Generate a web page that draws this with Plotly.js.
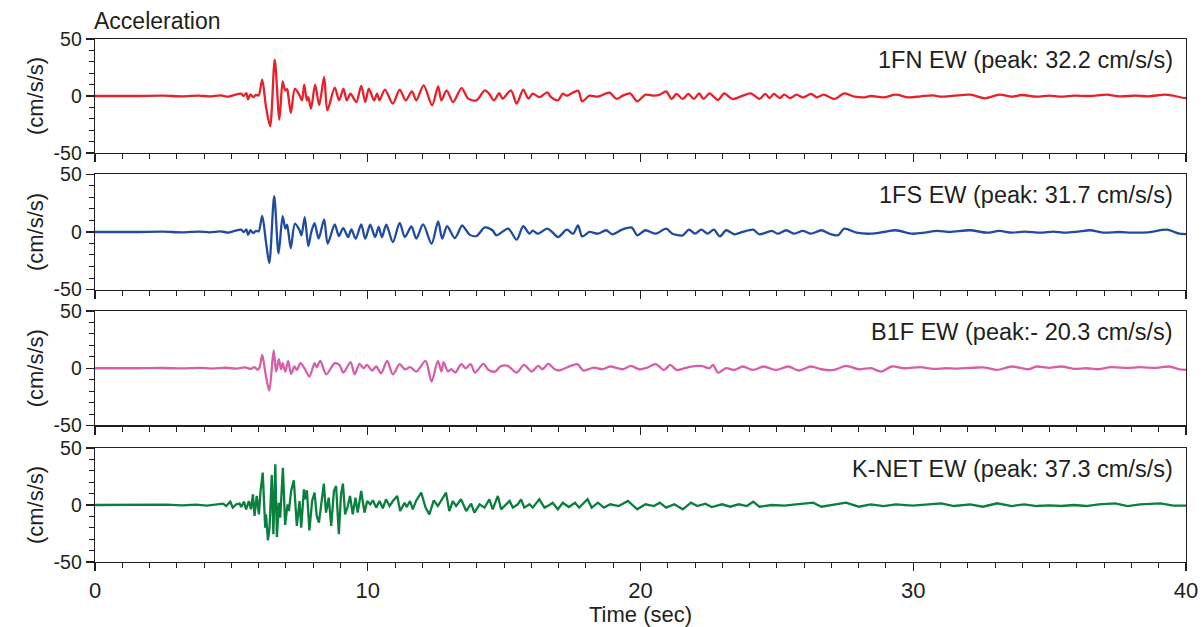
<!DOCTYPE html>
<html>
<head>
<meta charset="utf-8">
<script src="https://cdn.plot.ly/plotly-3.0.1.min.js"></script>
<style>html,body{margin:0;padding:0;background:#fff;}#chart{width:1203px;height:627px;}</style>
</head>
<body>
<div id="chart"></div>
<script>
// ---- Data ----
const labels = ["1FN EW (peak: 32.2 cm/s/s)", "1FS EW (peak: 31.7 cm/s/s)", "B1F EW (peak:- 20.3 cm/s/s)", "K-NET EW (peak: 37.3 cm/s/s)"];
const yTitle = "(cm/s/s)";
const xTitle = "Time (sec)";
const chartTitle = "Acceleration";
const yTickVals = [-50, 0, 50];
const yTickText = ["-50", "0", "50"];

// 1FN EW
const t1 = [0,1.5,2.5,3.2,3.8,4.2,4.6,4.9,5.1,5.36,5.45,5.55,5.61,5.7,5.8,5.9,6.0,
 6.13,6.27,6.42,6.59,6.76,6.88,6.97,7.04,7.09,7.18,7.33,7.5,7.59,7.67,7.77,7.82,7.92,8.07,8.22,8.4,8.52,8.79,8.95,9.11,9.23,9.37,9.58,9.76,9.91,10.04,10.23,10.34,10.43,10.63,10.92,11.17,11.39,11.62,11.78,12.05,12.36,12.58,12.7,12.89,13.13,13.44,13.68,13.99,14.29,14.45,14.63,14.82,14.94,15.25,15.46,15.7,15.89,16.05,16.3,16.58,16.72,16.98,
 17.15,17.3,17.71,17.86,18.13,18.44,18.86,19.12,19.35,19.62,19.88,20.18,20.49,20.71,20.94,21.14,21.32,21.55,21.75,21.96,22.15,22.31,22.53,22.84,23.07,23.37,23.75,24.05,24.36,24.58,24.73,24.89,25.11,25.27,25.49,25.72,25.95,26.25,26.48,26.71,27.12,27.47,27.85,28.22,28.45,28.91,29.36,29.82,30.27,30.73,31.03,31.49,32.09,32.63,33.16,33.61,33.99,34.52,34.98,35.43,35.89,36.49,37.1,37.56,38.16,38.62,39.23,39.53,39.95,40];
const a1 = [0,0,0.3,-0.3,0.4,-0.4,0.5,-0.5,0.8,2,0,2.6,-3,1.5,-1,1,0.5,
 14.3,-9.6,-26.6,31.9,-20.8,12.9,5,6,0,-14.9,6.4,0.6,-3.8,10,-3.8,-1,-11,10,-8,16.7,-12.6,7.3,-3.8,6.4,-3.8,2,-5.3,8.8,-5.3,6.4,-3.8,2,-3.8,5.6,-6.7,5.6,-3.8,4,-3.8,9.4,-8.2,8.5,-3.8,5,-5.3,7,-2.3,-3.8,5,2,-3.8,2.6,-2.3,5,-6.7,5.6,-2.3,2,-1,3.2,-1,-3.8,
 2,0.3,4.7,-4.7,0.3,-0.6,2.9,-2.6,0.3,2.3,-4.7,1.2,0.3,1.2,4.1,-2.6,1.8,-2.6,1.8,-2.6,2.3,-2.6,2.3,-3.5,2.3,-2.6,0.3,2.3,-2.6,1.8,-1.8,1.8,-1.8,1.2,-1.8,1.2,-1.2,1.8,-1.2,1.2,-2.6,2.3,-0.6,-1.2,0,-1.2,1.2,-1.2,-0.3,0.6,-0.6,0.3,1.2,-2,1.2,-0.6,0.9,-0.6,0.3,-0.6,0.3,0,1.2,-0.3,0.3,-0.3,1.2,0.3,-1.8,-1.5];

// 1FS EW
const t2 = [0,1.5,2.5,3.2,3.8,4.2,4.6,4.9,5.1,5.36,5.45,5.55,5.61,5.7,5.8,5.9,6.0,
 6.13,6.27,6.39,6.57,6.73,6.88,6.98,7.04,7.09,7.18,7.33,7.5,7.57,7.69,7.82,7.93,8.05,8.2,8.4,8.53,8.79,8.94,9.1,9.28,9.4,9.56,9.76,9.91,10.09,10.27,10.4,10.52,10.68,10.92,11.17,11.36,11.6,11.78,12.03,12.34,12.58,12.73,12.91,13.19,13.46,13.57,13.73,13.99,14.29,14.57,14.72,15.15,15.46,15.7,15.93,16.05,16.24,16.58,16.76,16.98,
 17.3,17.53,17.71,17.86,18.13,18.44,18.74,18.97,19.32,19.68,19.88,20.18,20.56,20.94,21.17,21.55,21.78,22.0,22.23,22.46,22.69,22.91,23.14,23.44,23.75,24.13,24.36,24.81,25.04,25.34,25.64,25.95,26.25,26.63,26.93,27.24,27.47,27.92,28.45,28.91,29.36,29.97,30.42,30.88,31.34,32.09,32.7,33.16,33.61,34.07,34.67,35.13,35.58,36.04,36.49,36.95,37.56,38.01,38.62,39.3,39.76,40];
const a2 = [0,0,0.3,-0.3,0.4,-0.3,0.5,-0.5,0.8,2,0,2.3,-2.6,1.5,-1,1,0.5,
 14,-9,-27,31.2,-18.6,13.7,2.9,6.4,0,-14,7.3,1.5,-2.9,13,-12.3,0,7.7,-5.8,11,-10.2,6.6,-3.5,3.4,-4.4,2.3,-5.8,6.6,-5.8,6.3,-4.4,4.4,-4.4,6.3,-8.8,8,-4.4,4.8,-5.8,6.6,-10.2,9.2,-5.8,5,-5.3,5.7,2.9,-2.3,-3.5,4,1.5,-2.9,3,-6.7,5,-1.5,1.2,-1.5,3,0,-4.4,
 2,-1.5,5.8,-3.8,0,-1.5,1.5,-2,2,3.8,-2.9,1.5,-1.5,2.9,-1.5,-2.9,2,-1.5,2,-1.5,2,-3.8,1.5,-2,0,2,-2,0.9,-1.5,1.5,-1.5,0.9,-1.5,1.5,-1.5,-2.9,2.9,-0.6,-1.5,0,1.5,-1.5,-0.6,0.9,0,1.5,-0.6,0.9,-0.6,0.3,-0.6,0.3,-0.6,0.3,1.5,-0.6,0,-0.6,-0.3,2,-1.5,-1.8];

// B1F EW
const t3 = [0,1.5,2.5,3.2,3.8,4.3,4.8,5.2,5.5,5.7,5.85,5.95,6.03,
 6.13,6.25,6.39,6.55,6.64,6.74,6.82,6.88,6.98,7.08,7.19,7.31,7.4,7.53,7.68,7.86,8.05,8.13,8.26,8.48,8.79,8.96,9.11,9.37,9.52,9.7,9.85,9.97,10.16,10.31,10.49,10.71,10.92,11.17,11.36,11.56,11.78,12.12,12.34,12.57,12.7,12.78,12.94,13.06,13.21,13.43,13.59,13.77,13.93,14.24,14.43,14.67,14.86,15.12,15.46,15.73,16.01,16.25,16.4,16.62,16.86,17.01,
 17.15,17.68,17.91,18.29,18.59,18.89,19.35,19.65,19.95,20.26,20.56,20.86,21.09,21.32,21.62,21.85,22.23,22.53,22.66,22.84,23.14,23.44,23.75,24.13,24.51,24.96,25.42,25.8,26.25,26.63,27.09,27.54,28.0,28.45,28.83,29.21,29.67,30.27,30.73,31.18,31.64,32.09,32.63,33.08,33.61,34.22,34.52,34.98,35.43,35.89,36.34,36.8,37.25,37.86,38.32,38.92,39.38,39.76,40];
const a3 = [0,0,0.2,-0.2,0.3,-0.3,0.4,-0.4,0.8,-0.6,1,-1.2,0.5,
 11.7,-4.4,-19.6,15.5,-2.9,7.9,-0.9,4.4,-2.9,6.4,-5,1.5,-1.5,4.4,0,-7.3,4.4,0.9,6.4,-5.3,4.4,2.9,-3.8,5.3,-5.3,3.8,0,2.9,-2,1.5,-4.4,6.4,-5.3,3.5,-0.9,0.9,-2.9,6.4,-11.7,6.4,-2.9,5.3,-2.9,-0.9,-3.8,3.5,0,3.5,-3.8,3.8,-1.5,-2.9,1.5,2.3,-3.8,2.9,-2.9,2,-0.9,3.8,-0.9,-2,
 -0.9,3.5,-2,0.6,-0.9,1.5,-0.9,2,-0.9,0.6,3.5,-1.5,2.9,-1.5,0,1.5,2,0,2.9,-3.8,0,-1.5,1.5,-1.5,1.5,-1.5,1.5,-2,1.5,-0.9,-1.5,2,-0.9,0,-2.9,1.5,0,0.9,-0.6,0,-0.3,0.3,0.6,-1.5,1.5,-0.9,1.5,0.3,1.5,-0.6,0,-0.9,0.9,0.3,0.9,0.3,1.5,-0.9,-1.5];

// K-NET EW
const t4 = [0,1.0,2.0,2.6,3.2,3.7,4.1,4.4,4.69,4.81,4.96,5.05,5.18,5.3,5.36,5.46,5.54,5.64,5.72,5.79,5.85,5.93,6.01,6.07,
 6.15,6.24,6.27,6.34,6.4,6.48,6.54,6.61,6.67,6.74,6.79,6.89,6.97,7.06,7.11,7.19,7.29,7.4,7.5,7.56,7.66,7.72,7.77,7.86,7.96,8.05,8.13,8.21,8.29,8.39,8.47,8.57,8.66,8.76,8.84,8.94,9.02,9.09,9.17,9.27,9.35,9.45,9.55,9.63,9.76,9.88,9.98,10.09,10.19,10.31,10.43,10.55,10.67,10.8,10.92,11.08,11.19,11.35,11.43,11.55,11.65,11.77,11.96,12.12,12.26,12.42,12.57,12.87,12.99,13.12,13.24,13.42,13.61,13.79,13.91,14.1,14.28,14.46,14.58,14.77,14.89,15.01,15.2,15.32,15.5,15.62,15.74,15.93,16.05,16.29,16.48,16.66,16.78,16.97,
 17.15,17.37,17.6,17.75,18.06,18.21,18.44,18.66,18.89,19.2,19.54,19.88,20.18,20.49,20.71,20.94,21.24,21.55,21.85,22.08,22.38,22.61,22.99,23.29,23.6,23.9,24.13,24.36,24.81,25.27,25.72,26.33,26.63,27.09,27.54,28.0,28.45,28.91,29.36,29.97,30.58,31.03,31.49,32.09,32.55,33.08,33.61,34.07,34.52,34.98,35.43,35.89,36.34,36.8,37.4,37.86,38.32,39.07,39.53,40];
const a4 = [0,0.1,-0.2,0.3,-0.3,0.4,-0.5,0.6,1.2,-0.9,2.9,-2.3,0.6,1.2,-1.8,2.9,-3.8,3.5,-3.8,9.4,-9.6,7.9,-8.2,12.3,
 28.4,-19.9,-8.2,-31,-19.9,26.3,-25.7,35.7,-28.1,2,-11.1,32.7,-17.5,0.6,-5.3,12.3,21.6,-18.4,3.5,-19.9,13.7,5,12.9,-22.2,3.5,10.8,-9.6,-15.5,-0.9,18.7,-6.7,6.4,-18.4,12.3,16.7,-25.7,9.4,18.7,-8.2,-0.9,7.9,-8.2,6.4,-6.7,12.3,-6.7,3.5,0.6,4.1,-2.3,3.5,-2.9,5,-0.9,3.5,7.9,-5.3,2,-1.8,3.5,-3.8,3.5,10.8,-2.3,-8.2,4.1,-0.9,10.8,-5.3,3.5,-0.9,5,-5.3,1.2,-6.7,0.6,-2.3,5,-3.8,7.9,-3.8,-0.9,3.5,-2.3,0.6,5,-2.3,0.6,-2.3,5,-2.3,0,2,-3.8,
 2,-1.8,2,-2.3,5,-2.3,2,-2.3,0.6,-0.9,3.5,-3.8,0.6,-0.9,2,-2.3,0.6,-3.8,2,-0.9,1.2,-1.8,0.6,-1.5,0.6,-0.9,2.9,-1.5,0,-0.6,0.6,2,-1.5,0.6,2,-1.5,0.6,-0.9,0.6,-0.6,0.6,1.5,-0.9,0.6,-1.5,1.5,-0.9,0.6,-0.9,-0.3,-0.9,0,-0.9,0.6,1.5,-0.9,0.6,1.5,-0.6,-0.6];

const times = [t1, t2, t3, t4];
const accels = [a1, a2, a3, a4];
const colors = ["#e8202a", "#1f4c9e", "#d660a8", "#0a7f3e"];

// ---- Build chart ----
const FONT = "Liberation Sans, Arial, Helvetica, sans-serif";
const INK = "#231f20";
const domains = [[0.782, 1.0], [0.521, 0.741], [0.261, 0.48], [0, 0.218]];

const traces = times.map((t, i) => ({
  x: t, y: accels[i], type: "scatter", mode: "lines",
  xaxis: i === 0 ? "x" : "x" + (i + 1),
  yaxis: i === 0 ? "y" : "y" + (i + 1),
  line: {color: colors[i], width: 2.3, shape: i === 3 ? "linear" : "spline", smoothing: 0.8},
  hoverinfo: "skip", showlegend: false
}));

const layout = {
  width: 1203, height: 627,
  margin: {l: 95, r: 17, t: 39, b: 65},
  paper_bgcolor: "#ffffff", plot_bgcolor: "#ffffff",
  font: {family: FONT, size: 22, color: INK},
  showlegend: false,
  annotations: []
};

for (let i = 0; i < 4; i++) {
  const sx = i === 0 ? "" : String(i + 1);
  layout["xaxis" + sx] = {
    anchor: "y" + sx, domain: [0, 1], range: [0, 40],
    tickmode: "linear", tick0: 0, dtick: 10,
    ticks: "outside", ticklen: 8, tickwidth: 1.2, tickcolor: INK,
    minor: {dtick: 1, ticks: "outside", ticklen: 5, tickwidth: 1, tickcolor: INK, showgrid: false},
    showline: true, linecolor: INK, linewidth: 1.3, mirror: true,
    showgrid: false, zeroline: false,
    showticklabels: i === 3,
    tickfont: {family: FONT, size: 22, color: INK},
    title: i === 3 ? {text: xTitle, font: {family: FONT, size: 22, color: INK}, standoff: 0} : {text: ""}
  };
  layout["yaxis" + sx] = {
    anchor: "x" + sx, domain: domains[i], range: [-50, 50],
    tickmode: "array", tickvals: yTickVals, ticktext: yTickText,
    ticks: "outside", ticklen: 8, tickwidth: 1.2, tickcolor: INK,
    minor: {dtick: 10, tick0: 0, ticks: "outside", ticklen: 5, tickwidth: 1, tickcolor: INK, showgrid: false},
    showline: true, linecolor: INK, linewidth: 1.3, mirror: true,
    showgrid: false, zeroline: false,
    tickfont: {family: FONT, size: 19.5, color: INK},
    title: {text: yTitle, font: {family: FONT, size: 22, color: INK}, standoff: 4}
  };
  layout.annotations.push({
    text: labels[i], xref: "x" + sx, yref: "y" + sx,
    x: 39.6, y: 32, xanchor: "right", yanchor: "middle",
    showarrow: false, font: {family: FONT, size: 23.5, color: INK}
  });
}
layout.annotations.push({
  text: chartTitle, xref: "paper", yref: "paper", x: 0, y: 1,
  xanchor: "left", yanchor: "bottom", yshift: 3, xshift: -3, showarrow: false,
  font: {family: FONT, size: 23, color: INK}
});

Plotly.newPlot("chart", traces, layout, {staticPlot: true, displayModeBar: false});
</script>
</body>
</html>
